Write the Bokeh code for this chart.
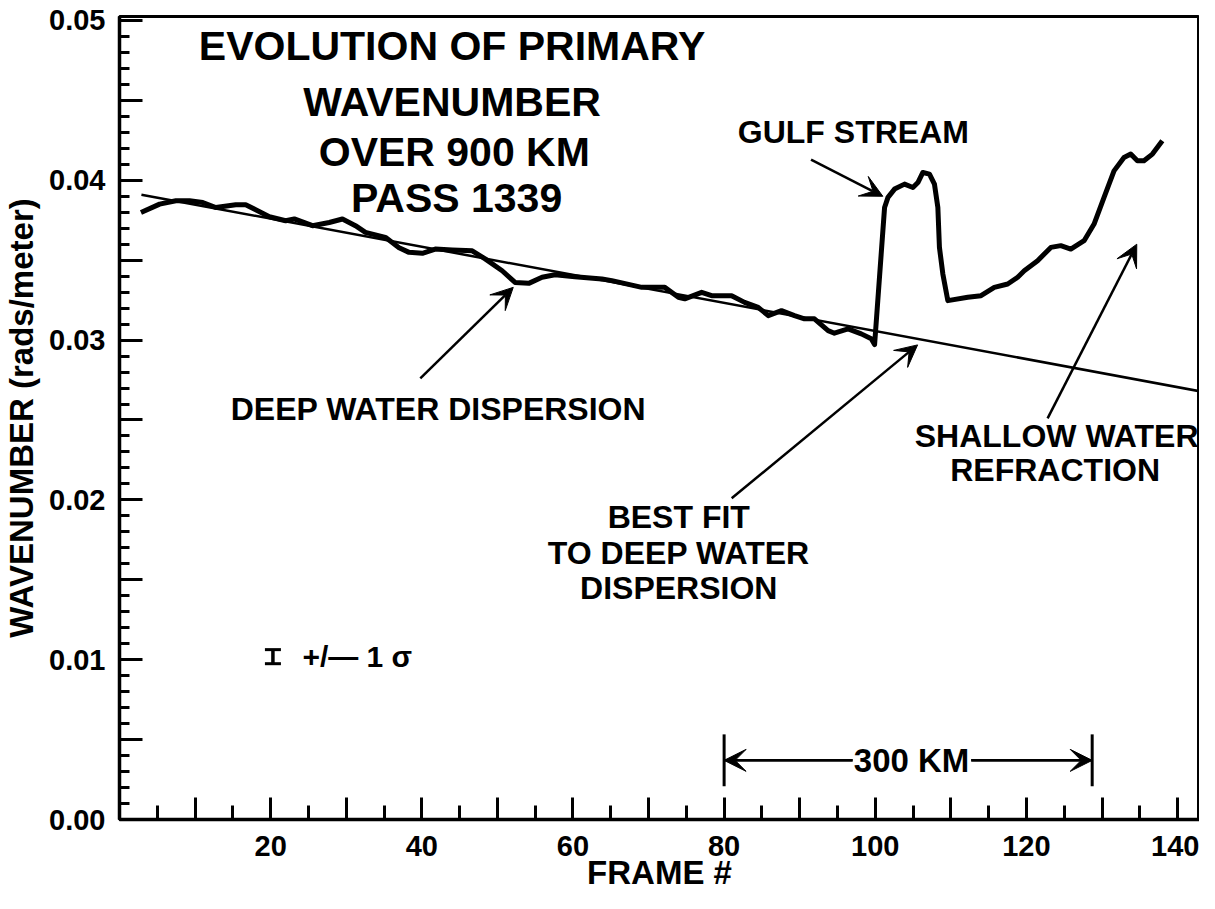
from bokeh.plotting import figure
from bokeh.models import (Range1d, FixedTicker, CustomJSTickFormatter, Label,
                          Arrow, VeeHead, TeeHead)
from bokeh.embed import file_html
from bokeh.resources import INLINE

# ---- data ----
frame_no = [2.84, 5.31, 7.46, 9.27, 11.02, 12.74, 15.38, 16.70, 18.02, 19.83,
            21.98, 23.13, 25.54, 27.75, 29.50, 31.22, 32.54, 35.18, 36.99, 38.31,
            40.07, 41.78, 44.03, 46.67, 48.38, 50.63, 52.34, 54.15, 55.91, 57.62,
            60.26, 63.83, 65.15, 69.11, 72.15, 73.95, 74.79, 77.03, 78.35, 80.99,
            82.71, 84.51, 85.84, 87.59, 89.31, 90.63, 91.95, 93.76, 94.59, 96.40,
            98.15, 99.47, 99.91, 101.23, 101.68, 102.55, 103.87, 104.98, 105.64, 106.30,
            107.17, 107.83, 108.28, 108.49, 108.94, 109.60, 112.24, 113.99, 115.75, 117.52,
            118.84, 119.71, 121.48, 123.23, 124.55, 125.87, 127.63, 128.95, 130.27, 131.59,
            132.91, 133.80, 134.68, 135.55, 136.67, 137.98]
wavenumber = [0.03799, 0.03851, 0.03872, 0.03872, 0.03861, 0.03830, 0.03847, 0.03847, 0.03816, 0.03772,
              0.03747, 0.03758, 0.03716, 0.03736, 0.03758, 0.03716, 0.03674, 0.03643, 0.03578, 0.03549,
              0.03543, 0.03570, 0.03564, 0.03559, 0.03508, 0.03434, 0.03361, 0.03355, 0.03393, 0.03409,
              0.03397, 0.03383, 0.03372, 0.03330, 0.03330, 0.03268, 0.03258, 0.03299, 0.03278, 0.03278,
              0.03236, 0.03205, 0.03153, 0.03184, 0.03153, 0.03133, 0.03133, 0.03059, 0.03043, 0.03070,
              0.03039, 0.03008, 0.02972, 0.03830, 0.03893, 0.03945, 0.03976, 0.03955, 0.03986, 0.04049,
              0.04039, 0.03976, 0.03830, 0.03580, 0.03414, 0.03247, 0.03268, 0.03278, 0.03330, 0.03351,
              0.03393, 0.03434, 0.03497, 0.03580, 0.03591, 0.03570, 0.03622, 0.03726, 0.03893, 0.04059,
              0.04143, 0.04164, 0.04122, 0.04122, 0.04164, 0.04247]

fit_x = [2.9, 142.9]
fit_y = [0.0391, 0.0268]

x_major = [10, 20, 30, 40, 50, 60, 70, 80, 90, 100, 110, 120, 130, 140]
x_minor = [5, 15, 25, 35, 45, 55, 65, 75, 85, 95, 105, 115, 125, 135]
y_major = [0.0, 0.005, 0.01, 0.015, 0.02, 0.025, 0.03, 0.035, 0.04, 0.045, 0.05]
y_minor = [i / 1000 for i in range(1, 50) if i % 5 != 0]

FONT = "Liberation Sans"

p = figure(width=1199, height=893, output_backend="svg", toolbar_location=None,
           x_range=Range1d(0, 142.9), y_range=Range1d(0, 0.05025),
           min_border_left=116, min_border_right=0, min_border_top=16,
           min_border_bottom=73)
p.background_fill_color = "white"
p.border_fill_color = "white"
p.outline_line_color = "black"
p.outline_line_width = 3
p.xgrid.visible = False
p.ygrid.visible = False

# curves
p.line(fit_x, fit_y, line_color="black", line_width=2.5)
p.line(frame_no, wavenumber, line_color="black", line_width=5, line_join="round")

# x axis
xa = p.xaxis[0]
xa.ticker = FixedTicker(ticks=x_major, minor_ticks=x_minor)
xa.formatter = CustomJSTickFormatter(code="""
    const t = Math.round(tick);
    return (t % 20 === 0) ? String(t) : "";
""")
xa.axis_label = "FRAME #"
# y axis
ya = p.yaxis[0]
ya.ticker = FixedTicker(ticks=y_major, minor_ticks=y_minor)
ya.formatter = CustomJSTickFormatter(code="""
    const k = Math.round(tick * 1000);
    return (k % 10 === 0) ? (k / 1000).toFixed(2) : "";
""")
ya.axis_label = "WAVENUMBER (rads/meter)"

for ax in (xa, ya):
    ax.axis_line_width = 3.5
    ax.major_tick_line_width = 3
    ax.minor_tick_line_width = 3
    ax.major_tick_out = 0
    ax.minor_tick_out = 0
    ax.major_label_text_font = FONT
    ax.major_label_text_font_style = "bold"
    ax.major_label_text_font_size = "29px"
    ax.major_label_text_color = "black"
    ax.axis_label_text_font = FONT
    ax.axis_label_text_font_style = "bold"
    ax.axis_label_text_color = "black"

xa.major_tick_in = 22
xa.minor_tick_in = 14
xa.major_label_standoff = 16
xa.axis_label_text_font_size = "33px"
xa.axis_label_standoff = -5

ya.major_tick_in = 23
ya.minor_tick_in = 10
ya.major_label_standoff = 14
ya.axis_label_text_font_size = "33px"
ya.axis_label_standoff = 6


def add_text(txt, x, y, size, align="center", font=FONT, style="bold"):
    p.add_layout(Label(x=x, y=y, text=txt, text_font=font, text_font_style=style,
                       text_font_size=size, text_align=align, text_baseline="middle",
                       text_color="black"))


# title block
add_text("EVOLUTION OF PRIMARY", 44.0, 0.0484, "41px")
add_text("WAVENUMBER", 44.0, 0.0449, "41px")
add_text("OVER 900 KM", 44.3, 0.0418, "41px")
add_text("PASS 1339", 44.6, 0.0389, "41px")

# annotations
add_text("GULF STREAM", 97.1, 0.0430, "32px")
add_text("DEEP WATER DISPERSION", 42.2, 0.0257, "32px")
add_text("BEST FIT", 74.0, 0.0189, "32px")
add_text("TO DEEP WATER", 74.0, 0.0167, "32px")
add_text("DISPERSION", 74.0, 0.0145, "32px")
add_text("SHALLOW WATER", 124.0, 0.0240, "32px")
add_text("REFRACTION", 123.8, 0.0219, "32px")
add_text("300 KM", 104.8, 0.0037, "33px")

# +/- 1 sigma key: an error-bar symbol followed by its text
p.add_layout(Arrow(start=TeeHead(size=16, line_width=3, line_color="black"),
                   end=TeeHead(size=16, line_width=3, line_color="black"),
                   x_start=20.3, y_start=0.00975, x_end=20.3, y_end=0.01063,
                   line_width=3.5, line_color="black"))
add_text("+/\u2014 1 \u03c3", 24.2, 0.0102, "30px", align="left")


def add_arrow(x0, y0, x1, y1):
    p.add_layout(Arrow(end=VeeHead(size=22, fill_color="black", line_color="black",
                                   line_width=1),
                       x_start=x0, y_start=y0, x_end=x1, y_end=y1,
                       line_width=2.5, line_color="black"))


add_arrow(91.5, 0.0413, 101.0, 0.0390)
add_arrow(39.8, 0.0276, 52.1, 0.0333)
add_arrow(81.0, 0.0201, 105.6, 0.0297)
add_arrow(122.8, 0.0251, 134.6, 0.0360)

# 300 km scale bar
for xs, xe in ((97.0, 80.0), (112.7, 128.7)):
    add_arrow(xs, 0.0037, xe, 0.0037)
    p.add_layout(Arrow(end=TeeHead(size=52, line_width=3, line_color="black"),
                       x_start=xs, y_start=0.0037, x_end=xe, y_end=0.0037,
                       line_width=2.5, line_color="black"))

open("out.html", "w").write(file_html(p, INLINE))
